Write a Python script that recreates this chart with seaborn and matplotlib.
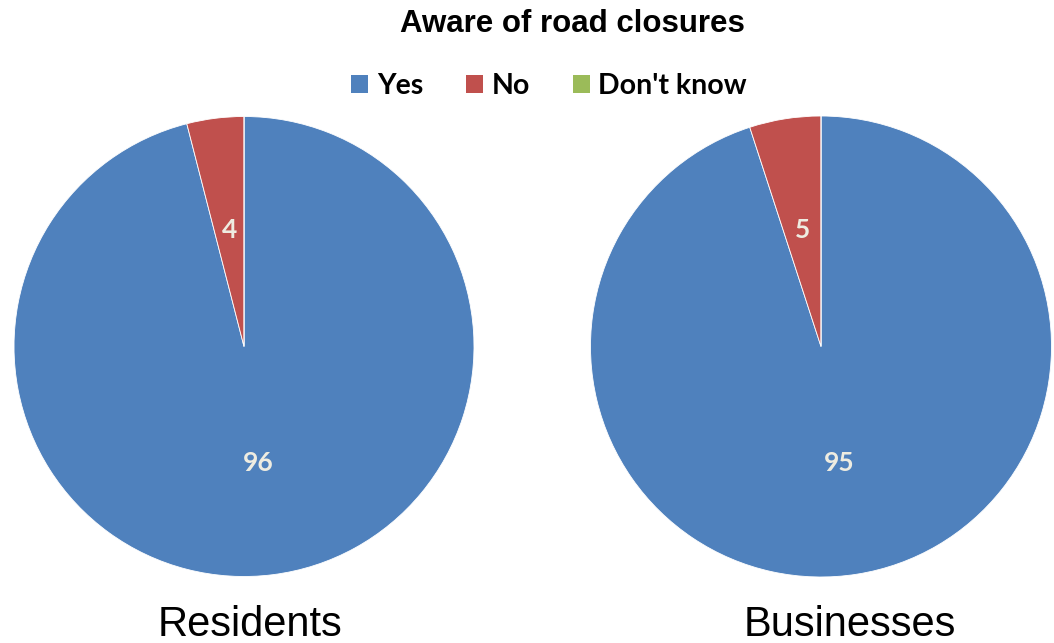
import matplotlib
matplotlib.use("Agg")
import matplotlib.pyplot as plt
import seaborn as sns

# survey answers (percent)
categories = ["Yes", "No", "Don't know"]
residents = [96, 4, 0]
businesses = [95, 5, 0]
groups = ["Residents", "Businesses"]
title = "Aware of road closures"

colors = ["#4F81BD", "#C0504D", "#9BBB59"]

sns.set_theme(style="white")
plt.rcParams['font.family'] = ['Liberation Sans', 'DejaVu Sans']
plt.rcParams['text.color'] = 'black'

fig = plt.figure(figsize=(10.54, 6.43), dpi=100)

axes_pos = [
    [14 / 1054, 66 / 643, 460 / 1054, 461 / 643],
    [590 / 1054, 66 / 643, 462 / 1054, 461 / 643],
]
label_x = [250 / 1054, 850 / 1054]


def value_label(pct):
    v = int(round(pct))
    return str(v) if v > 0 else ""


wedges = None
for pos, vals, name, lx in zip(axes_pos, [residents, businesses], groups, label_x):
    ax = fig.add_axes(pos)
    wedges, texts, autotexts = ax.pie(
        vals, colors=colors, startangle=90, counterclock=False,
        autopct=value_label, pctdistance=0.51,
        wedgeprops=dict(edgecolor="white", linewidth=0.6),
        textprops=dict(color="#EEECE1", fontsize=19, fontweight="bold",
                       family=["Lato", "DejaVu Sans"]),
    )
    ax.set_xlim(-1.0, 1.0)
    ax.set_ylim(-1.0, 1.0)
    ax.set_aspect("equal")
    ax.axis("off")
    fig.text(lx, 0.028, name, ha="center", va="center", fontsize=30, color="black")

fig.text(0.543, 0.963, title, ha="center", va="center", fontsize=22.5,
         fontweight="bold", color="black")

leg = fig.legend(wedges, categories, loc="center", bbox_to_anchor=(0.521, 0.866),
                 ncol=3, frameon=False, handlelength=0.6, handleheight=0.6,
                 handletextpad=0.3, columnspacing=1.5,
                 prop=dict(family=["Lato", "DejaVu Sans"], weight="bold", size=20.5))
for h in leg.legend_handles:
    h.set_edgecolor("none")

fig.savefig("out.png", dpi=100)
